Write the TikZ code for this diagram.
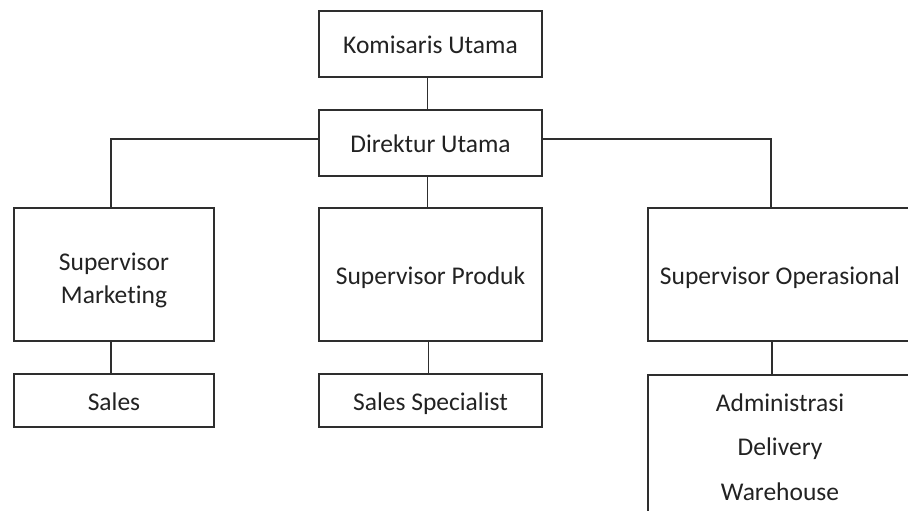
\documentclass[tikz,border=0pt]{standalone}
\usepackage{fontspec}
\setmainfont{Carlito}[Ligatures=NoCommon]
\definecolor{linec}{HTML}{2E2E2E}
\definecolor{textc}{HTML}{222222}
\begin{document}
\begin{tikzpicture}[x=1pt,y=-1pt,
  box/.style={draw=linec, line width=1.8pt, rectangle, inner sep=0pt, align=center,
              text=textc, font=\fontsize{25.5}{33}\selectfont},
  one/.style={text height=21pt, text depth=2pt},
  txt/.style={inner sep=0pt, align=center, text=textc, anchor=north},
  conn/.style={draw=linec, line width=1.8pt}]
\useasboundingbox (0,0) rectangle (908,511);
\clip (0,0) rectangle (908,511);
% top level
\node[box,one,minimum width=223pt,minimum height=66pt] (kom) at (430.5,44) {Komisaris Utama};
\node[box,one,minimum width=223pt,minimum height=66pt] (dir) at (430.5,143) {Direktur Utama};
% supervisors
\node[box,minimum width=200pt,minimum height=133pt] (sm) at (114,274.5) {};
\node[txt,font=\fontsize{25.5}{33}\selectfont] (smt) at (114,252.5) {Supervisor\\Marketing};
\node[box,one,minimum width=223pt,minimum height=133pt] (sp) at (430.5,274.5) {Supervisor Produk};
\node[box,one,minimum width=264pt,minimum height=133pt] (so) at (780,274.5) {Supervisor Operasional};
% staff
\node[box,one,minimum width=200pt,minimum height=53pt] (sales) at (114,400.5) {Sales};
\node[box,one,minimum width=223pt,minimum height=53pt] (ss) at (430.5,400.5) {Sales Specialist};
\node[box,minimum width=264pt,minimum height=160pt,anchor=north] (adm) at (780,374) {};
\node[txt,font=\fontsize{25.5}{44.5}\selectfont] (admt) at (780,393.5) {Administrasi\\Delivery\\Warehouse};
% connectors
\draw[conn] ([xshift=-3pt]kom.south) -- ([xshift=-3pt]dir.north);
\draw[conn] ([yshift=4pt]dir.west) -| ([xshift=-3pt]sm.north);
\draw[conn] ([yshift=4pt]dir.east) -| ([xshift=-9pt]so.north);
\draw[conn] ([xshift=-3pt]dir.south) -- ([xshift=-3pt]sp.north);
\draw[conn] ([xshift=-3pt]sm.south) -- ([xshift=-3pt]sales.north);
\draw[conn] ([xshift=-2pt]sp.south) -- ([xshift=-2pt]ss.north);
\draw[conn] ([xshift=-8pt]so.south) -- ([xshift=-8pt]adm.north);
\end{tikzpicture}
\end{document}
